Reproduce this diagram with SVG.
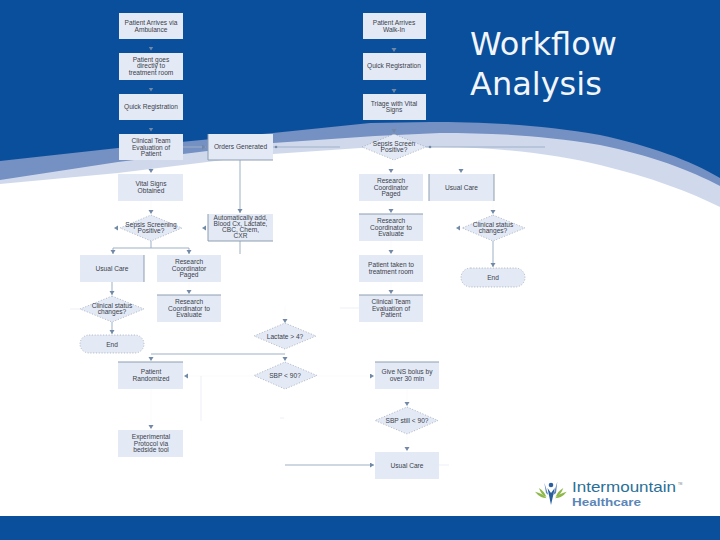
<svg xmlns="http://www.w3.org/2000/svg" width="720" height="540" viewBox="0 0 720 540">
<style>
text{font-family:"Liberation Sans",Arial,sans-serif}
.n{fill:#e4eaf5}
.t{font-size:6.6px;fill:#3a414c;text-anchor:middle}
.d{fill:#e4eaf5;stroke:#8b97a8;stroke-width:.6;stroke-dasharray:1.2 1.6}
.e{stroke:#8d9db2;stroke-width:1;fill:none}
.c{stroke:#9db0c6;stroke-width:1;fill:none}
.f{stroke:#9db0c6;stroke-width:1;fill:none;stroke-opacity:.04}
.g{stroke:#9db0c6;stroke-width:1;fill:none;stroke-opacity:.2}
.ti{font-family:"DejaVu Sans",sans-serif;font-size:32px;fill:#f2f6fb}
</style>
<defs>
<marker id="a" markerUnits="userSpaceOnUse" markerWidth="6" markerHeight="6" refX="4" refY="2.5" orient="auto"><path d="M0 0L4 2.5L0 5Z" fill="#7189a6"/></marker>
</defs>
<rect width="720" height="540" fill="#fff"/>
<g id="background">
<path d="M0 0H720V207C690 192 650 177 600 165C560 155 500 147 440 147L375 147L273 154L118 173L0 184Z" fill="#d0d9ec"/>
<path d="M0 0H720V186C690 170 650 155 600 145C540 135 490 133 440 133L375 136L273 143L118 162L0 180Z" fill="#7590c2"/>
<path d="M0 0H720V178C690 160 650 146 600 135C540 124 480 122 430 122L370 123L273 133L118 148L0 161Z" fill="#0a4f9b"/>
<rect y="516" width="720" height="24" fill="#0a4f9b"/>
</g>
<g id="title"><text class="ti" x="470" y="55">Workflow</text><text class="ti" x="470" y="95">Analysis</text></g>
<g id="connectors">
<path class="f" d="M151 39V50.500" marker-end="url(#a)"/><path class="f" d="M151 80V91.500" marker-end="url(#a)"/><path class="f" d="M151 120V131.500" marker-end="url(#a)"/><path class="f" d="M151 160V173" marker-end="url(#a)"/>
<path class="f" d="M394 39V52" marker-end="url(#a)"/><path class="f" d="M394 80V93" marker-end="url(#a)"/><path class="f" d="M394 120V133" marker-end="url(#a)"/>
<path class="f" d="M391 160V173" marker-end="url(#a)"/><path class="f" d="M461 160V173" marker-end="url(#a)"/>
<path class="f" d="M391 201V213" marker-end="url(#a)"/><path class="f" d="M391 241V254" marker-end="url(#a)"/><path class="f" d="M391 282V294" marker-end="url(#a)"/>
<path class="f" d="M151 201V214" marker-end="url(#a)"/><path class="f" d="M189 282V294" marker-end="url(#a)"/>
<path class="f" d="M151 389V429" marker-end="url(#a)"/><path class="f" d="M407 389V406" marker-end="url(#a)"/><path class="f" d="M407 434V451" marker-end="url(#a)"/>
<path class="f" d="M285 306V323" marker-end="url(#a)"/>
<path class="c" d="M183 147H206" marker-end="url(#a)"/>
<path class="c" d="M273 147H340"/><circle cx="276" cy="147" r="1.300" fill="#7189a6"/>
<path class="c" d="M240 160V213" marker-end="url(#a)"/>
<path class="c" d="M240 241V254"/>
<path class="c" d="M151 241V248"/>
<path class="c" d="M113 248H189V254" marker-end="url(#a)"/>
<path class="c" d="M113 248V254" marker-end="url(#a)"/>
<path class="f" d="M208 228H202" marker-end="url(#a)"/>
<path class="f" d="M120 228H114" marker-end="url(#a)"/>
<path class="c" d="M112 282V295" marker-end="url(#a)"/>
<path class="c" d="M112 322V334" marker-end="url(#a)"/>
<path class="g" d="M70 309H80"/>
<path class="c" d="M151 354H285"/>
<path class="f" d="M151 354V361" marker-end="url(#a)"/>
<path class="f" d="M285 349V361" marker-end="url(#a)"/>
<path class="g" d="M201 376V421"/>
<path class="f" d="M254 376H184" marker-end="url(#a)"/>
<path class="f" d="M317 376H374" marker-end="url(#a)"/>
<path class="g" d="M280 418H284"/>
<path class="c" d="M285 465H374" marker-end="url(#a)"/>
<path class="g" d="M439 465H449"/>
<path class="c" d="M426 147H545"/><circle cx="430" cy="147" r="1.300" fill="#7189a6"/>
<path class="g" d="M340 308H359"/>
<path class="c" d="M493 241V267" marker-end="url(#a)"/>
<path class="f" d="M493 201V214" marker-end="url(#a)"/>
<path class="f" d="M462 228H456" marker-end="url(#a)"/>
</g>
<g id="n1"><rect class="n" x="119" y="13" width="64" height="26"/><text class="t" x="151" y="25">Patient Arrives via</text><text class="t" x="151" y="32">Ambulance</text></g>
<g id="n2"><rect class="n" x="119" y="53" width="64" height="27"/><text class="t" x="151" y="62">Patient goes</text><text class="t" x="151" y="68">directly to</text><text class="t" x="151" y="75">treatment room</text></g>
<g id="n3"><rect class="n" x="119" y="94" width="64" height="26"/><text class="t" x="151" y="108.500">Quick Registration</text></g>
<g id="n4"><rect class="n" x="119" y="134" width="64" height="26"/><text class="t" x="151" y="143">Clinical Team</text><text class="t" x="151" y="149.500">Evaluation of</text><text class="t" x="151" y="155.500">Patient</text></g>
<g id="n5"><rect class="n" x="208" y="134" width="65" height="26"/><path class="e" d="M208 134V160H273"/><text class="t" x="240.500" y="149">Orders Generated</text></g>
<g id="n6"><rect class="n" x="118" y="174" width="65" height="27"/><text class="t" x="151" y="186">Vital Signs</text><text class="t" x="151" y="192.500">Obtained</text></g>
<g id="n7"><path class="d" d="M151 215L182 228L151 241L120 228Z"/><text class="t" x="151" y="226.500">Sepsis Screening</text><text class="t" x="151" y="233">Positive?</text></g>
<g id="n8"><rect class="n" x="208" y="214" width="65" height="27"/><path class="e" d="M208 214V241H273" stroke-width=".7"/><text class="t" x="240.500" y="220">Automatically add,</text><text class="t" x="240.500" y="226">Blood Cx, Lactate,</text><text class="t" x="240.500" y="232">CBC, Chem,</text><text class="t" x="240.500" y="238">CXR</text></g>
<g id="n9"><rect class="n" x="80" y="255" width="64" height="27"/><path class="e" d="M144 255V282" stroke-width=".7"/><text class="t" x="112" y="270.500">Usual Care</text></g>
<g id="n10"><rect class="n" x="157" y="255" width="64" height="27"/><text class="t" x="189" y="264">Research</text><text class="t" x="189" y="270.500">Coordinator</text><text class="t" x="189" y="276.500">Paged</text></g>
<g id="n11"><rect class="n" x="157" y="295" width="64" height="27"/><path class="e" d="M157 295H221" stroke-width=".7"/><text class="t" x="189" y="304">Research</text><text class="t" x="189" y="310.500">Coordinator to</text><text class="t" x="189" y="316.500">Evaluate</text></g>
<g id="n12"><path class="d" d="M112 296L144 309L112 322L80 309Z"/><text class="t" x="112" y="307.500">Clinical status</text><text class="t" x="112" y="314">changes?</text></g>
<g id="n13"><rect class="d" x="80" y="335" width="64" height="18" rx="9"/><text class="t" x="112" y="346.500">End</text></g>
<g id="n14"><path class="d" d="M285 323L316 336L285 349L254 336Z"/><text class="t" x="285" y="338.500">Lactate &gt; 4?</text></g>
<g id="n15"><rect class="n" x="118" y="362" width="65" height="27"/><path class="e" d="M118 362H183" stroke-width=".7"/><text class="t" x="151" y="374">Patient</text><text class="t" x="151" y="380.500">Randomized</text></g>
<g id="n16"><path class="d" d="M285 362L317 375.500L285 389L254 375.500Z"/><text class="t" x="285" y="378">SBP &lt; 90?</text></g>
<g id="n17"><rect class="n" x="375" y="362" width="64" height="27"/><path class="e" d="M375 362H439" stroke-width=".7"/><text class="t" x="407" y="374">Give NS bolus by</text><text class="t" x="407" y="380.500">over 30 min</text></g>
<g id="n18"><path class="d" d="M407 407L438 420.500L407 434L375 420.500Z"/><text class="t" x="407" y="423">SBP still &lt; 90?</text></g>
<g id="n19"><rect class="n" x="375" y="452" width="64" height="27"/><text class="t" x="407" y="467.500">Usual Care</text></g>
<g id="n20"><rect class="n" x="118" y="430" width="65" height="27"/><text class="t" x="151" y="439">Experimental</text><text class="t" x="151" y="445.500">Protocol via</text><text class="t" x="151" y="451.500">bedside tool</text></g>
<g id="n21"><rect class="n" x="363" y="13" width="63" height="26"/><text class="t" x="394" y="25">Patient Arrives</text><text class="t" x="394" y="31.500">Walk-In</text></g>
<g id="n22"><rect class="n" x="363" y="53" width="63" height="27"/><text class="t" x="394" y="68">Quick Registration</text></g>
<g id="n23"><rect class="n" x="363" y="94" width="63" height="26"/><text class="t" x="394" y="105.500">Triage with Vital</text><text class="t" x="394" y="112">Signs</text></g>
<g id="n24"><path class="d" d="M394 134L426 147L394 160L362 147Z"/><text class="t" x="394" y="146">Sepsis Screen</text><text class="t" x="394" y="152">Positive?</text></g>
<g id="n25"><rect class="n" x="359" y="174" width="64" height="27"/><text class="t" x="391" y="183">Research</text><text class="t" x="391" y="189.500">Coordinator</text><text class="t" x="391" y="195.500">Paged</text></g>
<g id="n26"><rect class="n" x="429" y="174" width="65" height="27"/><path class="e" d="M429 174V201M494 174V201" stroke-width=".7"/><text class="t" x="461.500" y="189.500">Usual Care</text></g>
<g id="n27"><rect class="n" x="359" y="214" width="64" height="27"/><path class="e" d="M359 214H423" stroke-width=".5"/><text class="t" x="391" y="223">Research</text><text class="t" x="391" y="229.500">Coordinator to</text><text class="t" x="391" y="235.500">Evaluate</text></g>
<g id="n28"><rect class="n" x="359" y="255" width="64" height="27"/><text class="t" x="391" y="267">Patient taken to</text><text class="t" x="391" y="273.500">treatment room</text></g>
<g id="n29"><rect class="n" x="359" y="295" width="64" height="27"/><path class="e" d="M359 295H423" stroke-width=".7"/><text class="t" x="391" y="304">Clinical Team</text><text class="t" x="391" y="310.500">Evaluation of</text><text class="t" x="391" y="316.500">Patient</text></g>
<g id="n30"><path class="d" d="M493 215L525 228L493 241L462 228Z"/><text class="t" x="493" y="226.500">Clinical status</text><text class="t" x="493" y="233">changes?</text></g>
<g id="n31"><rect class="d" x="461" y="268" width="64" height="19" rx="9.500"/><text class="t" x="493" y="279.500">End</text></g>
<g id="logo">
<path d="M535 491.700Q542 493 546.700 498.300Q540 498 535 491.700ZM539 488Q544 491 546.500 497Q541 495 539 488ZM566.700 491.700Q560 493 555 498.300Q562 498 566.700 491.700ZM563.300 488Q558 491 555.500 497Q561 495 563.300 488Z" fill="#8fb84a"/>
<path d="M544.300 482.700L548.300 495L546 493ZM557.300 481.700L553.300 495L556 493Z" fill="#5f86b8"/>
<path d="M547.500 488L551 493L554.800 488L551 505Z" fill="#2a5f9e"/>
<circle cx="551" cy="485" r="2.300" fill="#2a5f9e"/>
<text x="572" y="492" font-size="14.500" fill="#2b6f97" textLength="104" lengthAdjust="spacingAndGlyphs">Intermountain</text>
<text x="678" y="485" font-size="3" fill="#6a7a8a">TM</text>
<text x="572" y="505.500" font-size="11" font-weight="bold" fill="#5c86b8" textLength="69" lengthAdjust="spacingAndGlyphs">Healthcare</text>
</g>
</svg>
